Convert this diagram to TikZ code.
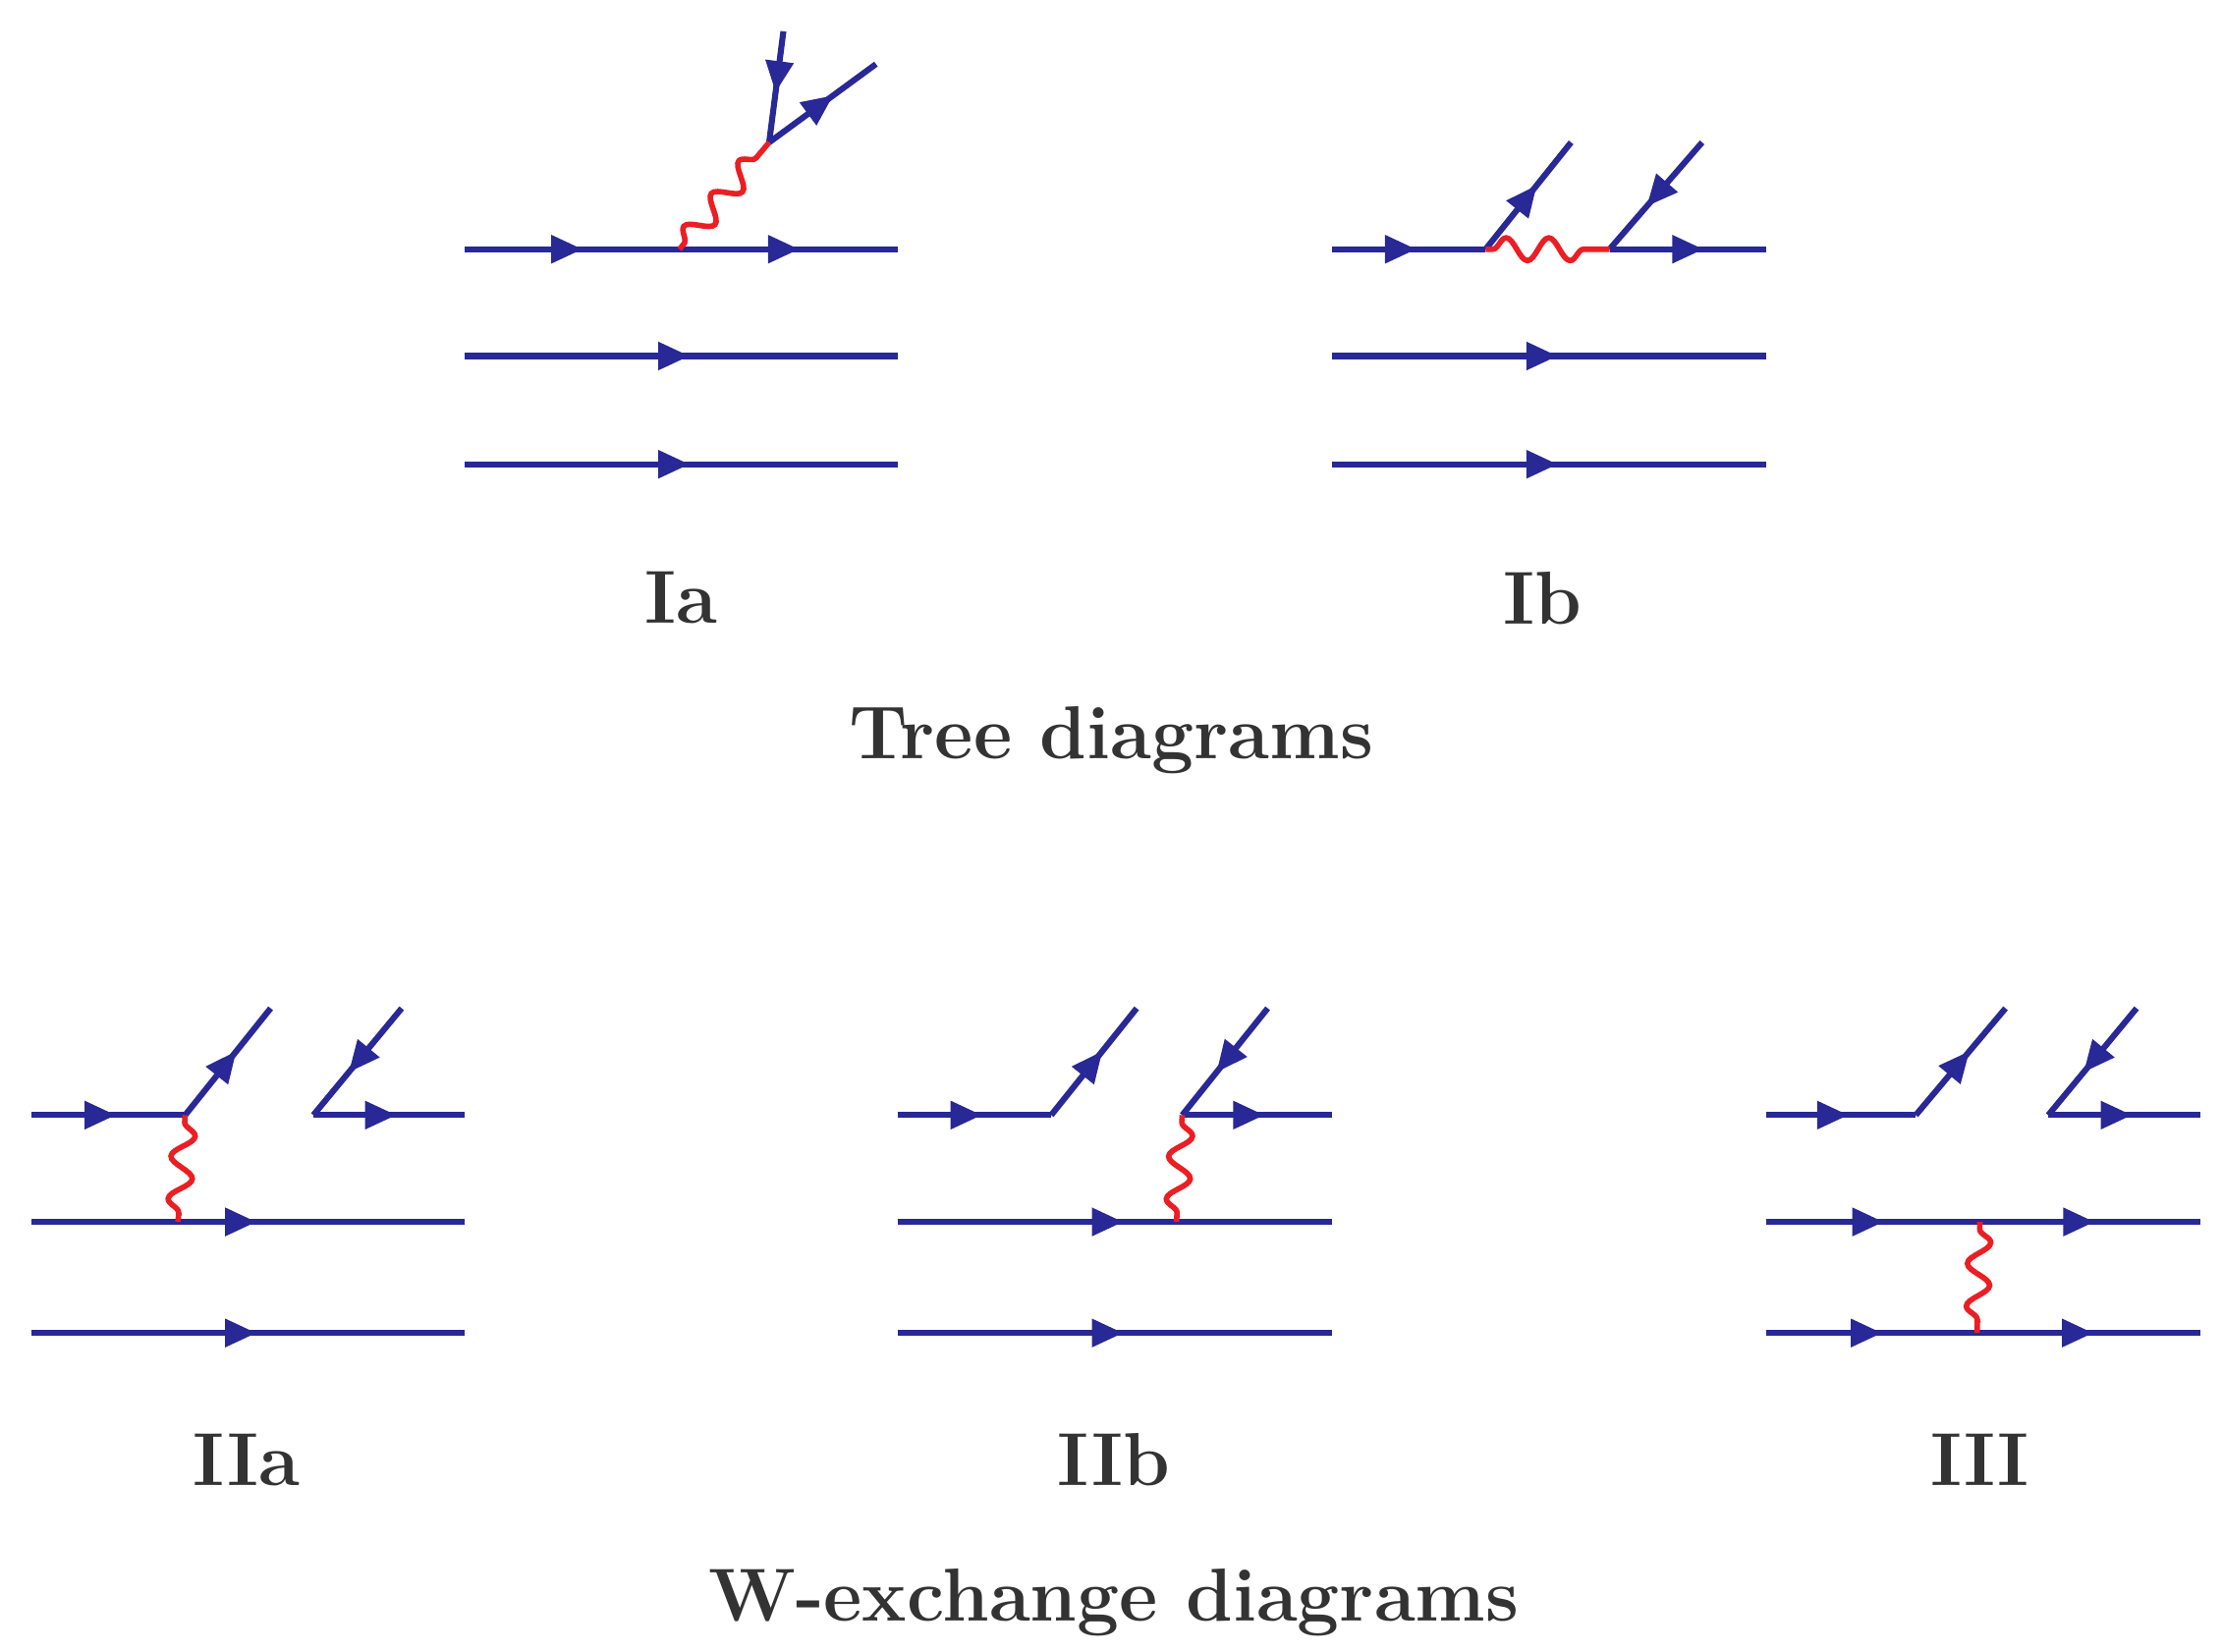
\documentclass[tikz,border=0pt]{standalone}
\usetikzlibrary{decorations.markings,decorations.pathmorphing,arrows.meta}
\definecolor{fblue}{RGB}{40,40,150}
\definecolor{wred}{RGB}{235,30,35}
\tikzset{
 fl/.style={draw=fblue,line width=1.2pt},
 fa/.style={postaction={decorate,decoration={markings,mark=at position #1 with {\arrow[fblue]{Triangle[length=2.2mm,width=1.9mm]}}}}},
 wv/.style={draw=wred,line width=1.1pt,decorate,decoration={snake,segment length=3mm,amplitude=0.8mm,pre length=0.5mm,post length=0.5mm}},
 lab/.style={font=\bfseries\fontsize{15}{17}\selectfont,text=black!80}
}
\begin{document}
\begin{tikzpicture}[x=0.1mm,y=-0.1mm]
\useasboundingbox (0,0) rectangle (1560,1160);
% Ia
\coordinate (a1) at (326,175); \coordinate (a2) at (477,175); \coordinate (a3) at (630,175);
\coordinate (av) at (540,100); \coordinate (at1) at (550,22); \coordinate (at2) at (615,45);
\draw[fl,fa=0.55] (a1)--(a2); \draw[fl,fa=0.55] (a2)--(a3);
\draw[fl,fa=0.55] (at1)--(av); \draw[fl,fa=0.6] (av)--(at2);
\draw[wv] (a2)--(av);
\coordinate (a4) at (326,250); \coordinate (a5) at (630,250);
\coordinate (a6) at (326,326); \coordinate (a7) at (630,326);
\draw[fl,fa=0.52] (a4)--(a5); \draw[fl,fa=0.52] (a6)--(a7);
\node[lab] (lIa) at (478,420) {Ia};
% Ib
\coordinate (b1) at (935,175); \coordinate (b2) at (1043,175); \coordinate (b3) at (1103,100);
\coordinate (b4) at (1195,100); \coordinate (b5) at (1130,175); \coordinate (b6) at (1240,175);
\draw[fl,fa=0.55] (b1)--(b2); \draw[fl,fa=0.6] (b2)--(b3);
\draw[fl,fa=0.6] (b4)--(b5); \draw[fl,fa=0.6] (b5)--(b6);
\draw[wv] (b2)--(b5);
\coordinate (b7) at (935,250); \coordinate (b8) at (1240,250);
\coordinate (b9) at (935,326); \coordinate (b10) at (1240,326);
\draw[fl,fa=0.52] (b7)--(b8); \draw[fl,fa=0.52] (b9)--(b10);
\node[lab] (lIb) at (1083,420) {Ib};
\node[lab] (ltree) at (780,520) {Tree diagrams};
% IIa
\coordinate (c1) at (22,783); \coordinate (c2) at (130,783); \coordinate (c3) at (190,708);
\coordinate (c4) at (282,708); \coordinate (c5) at (220,783); \coordinate (c6) at (326,783);
\draw[fl,fa=0.55] (c1)--(c2); \draw[fl,fa=0.6] (c2)--(c3);
\draw[fl,fa=0.6] (c4)--(c5); \draw[fl,fa=0.55] (c5)--(c6);
\coordinate (c7) at (22,858); \coordinate (c8) at (326,858); \coordinate (cw) at (125,858);
\coordinate (c9) at (22,936); \coordinate (c10) at (326,936);
\draw[fl,fa=0.52] (c7)--(c8); \draw[fl,fa=0.52] (c9)--(c10);
\draw[wv] (c2)--(cw);
\node[lab] (lIIa) at (173,1025) {IIa};
% IIb
\coordinate (d1) at (630,783); \coordinate (d2) at (738,783); \coordinate (d3) at (798,708);
\coordinate (d4) at (890,708); \coordinate (d5) at (830,783); \coordinate (d6) at (935,783);
\draw[fl,fa=0.55] (d1)--(d2); \draw[fl,fa=0.6] (d2)--(d3);
\draw[fl,fa=0.6] (d4)--(d5); \draw[fl,fa=0.55] (d5)--(d6);
\coordinate (d7) at (630,858); \coordinate (d8) at (935,858); \coordinate (dw) at (826,858);
\coordinate (d9) at (630,936); \coordinate (d10) at (935,936);
\draw[fl,fa=0.52] (d7)--(d8); \draw[fl,fa=0.52] (d9)--(d10);
\draw[wv] (d5)--(dw);
\node[lab] (lIIb) at (782,1025) {IIb};
% III
\coordinate (e1) at (1240,783); \coordinate (e2) at (1345,783); \coordinate (e3) at (1408,708);
\coordinate (e4) at (1500,708); \coordinate (e5) at (1438,783); \coordinate (e6) at (1545,783);
\draw[fl,fa=0.55] (e1)--(e2); \draw[fl,fa=0.6] (e2)--(e3);
\draw[fl,fa=0.6] (e4)--(e5); \draw[fl,fa=0.55] (e5)--(e6);
\coordinate (e7) at (1240,858); \coordinate (ew1) at (1390,858); \coordinate (e8) at (1545,858);
\coordinate (e9) at (1240,936); \coordinate (ew2) at (1388,936); \coordinate (e10) at (1545,936);
\draw[fl,fa=0.55] (e7)--(ew1); \draw[fl,fa=0.52] (ew1)--(e8);
\draw[fl,fa=0.55] (e9)--(ew2); \draw[fl,fa=0.52] (ew2)--(e10);
\draw[wv] (ew1)--(ew2);
\node[lab] (lIII) at (1390,1025) {III};
\node[lab] (lw) at (782,1125) {W-exchange diagrams};
\end{tikzpicture}
\end{document}
